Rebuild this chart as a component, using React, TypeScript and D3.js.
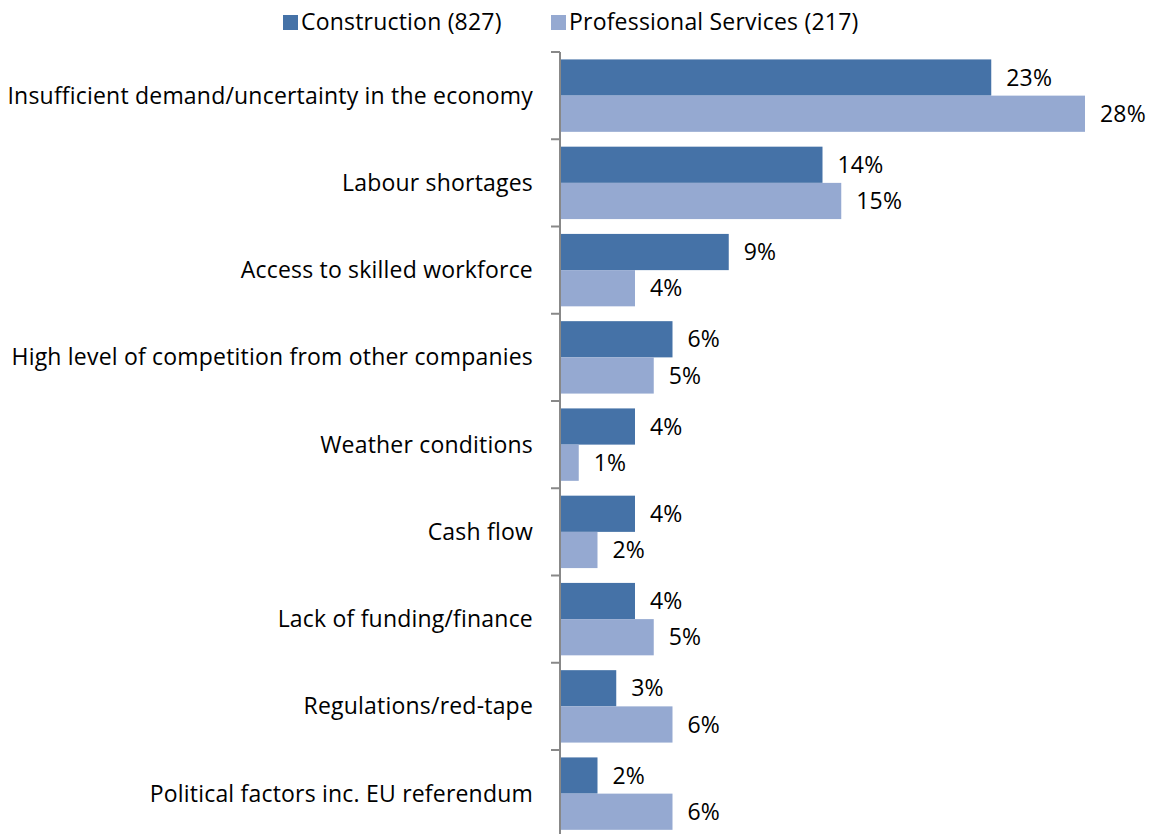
import React from "react";
import * as d3 from "d3";

const categories = [
  "Insufficient demand/uncertainty in the economy",
  "Labour shortages",
  "Access to skilled workforce",
  "High level of competition from other companies",
  "Weather conditions",
  "Cash flow",
  "Lack of funding/finance",
  "Regulations/red-tape",
  "Political factors inc. EU referendum",
];
const construction = [23, 14, 9, 6, 4, 4, 4, 3, 2];
const professional = [28, 15, 4, 5, 1, 2, 5, 6, 6];
const seriesNames = ["Construction (827)", "Professional Services (217)"];
const colors = ["#4572A7", "#95A9D1"];

export default function App() {
  const W = 1150, H = 834;
  const x0 = 560;
  const x = d3.scaleLinear().domain([0, 28]).range([x0, 1085]);
  const y = d3.scaleBand().domain(categories).range([52, 52 + 87.25 * 9]).paddingInner(0.17).paddingOuter(0.085);
  const series = [construction, professional];
  const font = "'Open Sans', sans-serif";
  const fs = 23;
  const ls = 0.2;
  const bw = y.bandwidth() / 2;
  return (
    <svg width={W} height={H} style={{ position: "absolute", left: 0, top: 0, background: "#fff" }} fontFamily={font} letterSpacing={ls}>
      {/* legend */}
      {seriesNames.map((s, i) => {
        const lx = i === 0 ? 283 : 551;
        return (
          <g key={s}>
            <rect x={lx} y={15} width={15} height={15} fill={colors[i]} />
            <text x={lx + 18} y={22} dy="0.35em" fontSize={fs} fill="#000">{s}</text>
          </g>
        );
      })}
      {/* bars */}
      {categories.map((c, ci) => (
        <g key={c}>
          {series.map((vals, si) => {
            const yy = (y(c) as number) + si * bw;
            return (
              <g key={si}>
                <rect x={x(0)} y={yy} width={x(vals[ci]) - x(0)} height={bw} fill={colors[si]} />
                <text x={x(vals[ci]) + 15} y={yy + bw / 2} dy="0.35em" fontSize={fs} fill="#000">{vals[ci]}%</text>
              </g>
            );
          })}
          <text x={533} y={(y(c) as number) + y.bandwidth() / 2} dy="0.35em" textAnchor="end" fontSize={fs} fill="#000">{c}</text>
        </g>
      ))}
      {/* axis */}
      <line x1={x0} x2={x0} y1={52} y2={H + 10} stroke="#888" strokeWidth={2} />
      {d3.range(10).map((i) => (
        <line key={i} x1={551} x2={x0} y1={52 + i * 87.25} y2={52 + i * 87.25} stroke="#888" strokeWidth={2} />
      ))}
    </svg>
  );
}
